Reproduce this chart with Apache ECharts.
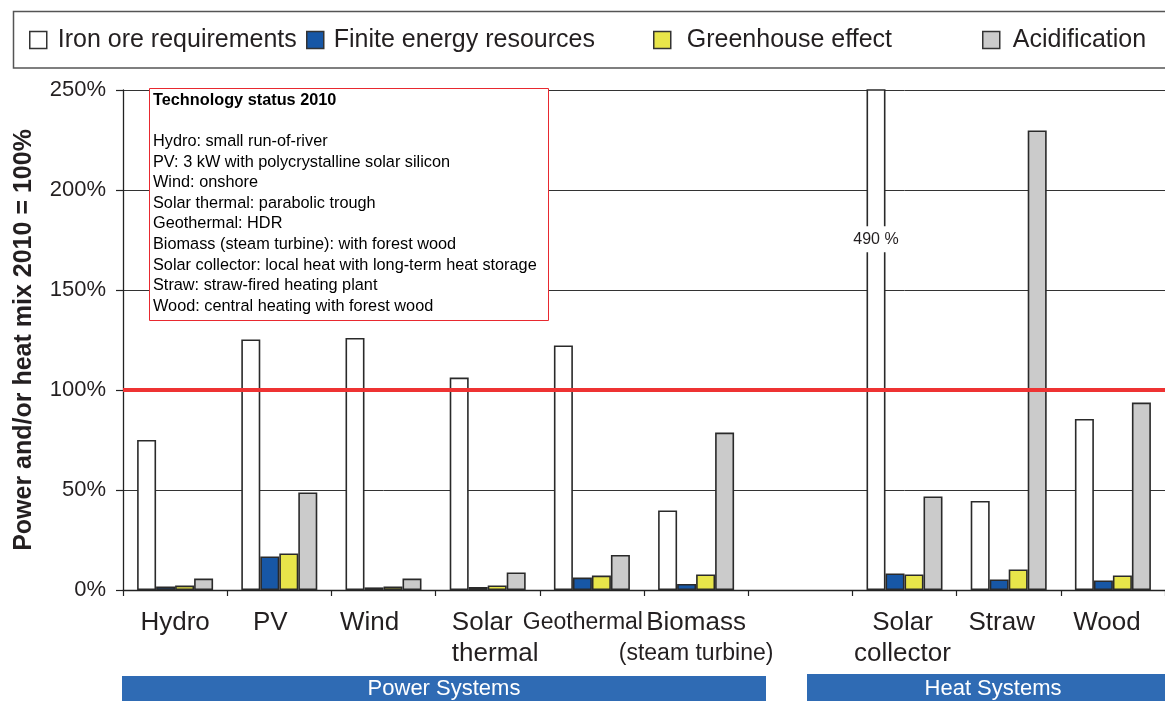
<!DOCTYPE html>
<html>
<head>
<meta charset="utf-8">
<script src="https://cdn.jsdelivr.net/npm/echarts@6/dist/echarts.min.js"></script>
<style>
html,body{margin:0;padding:0;background:#fff;}
#chart{width:1165px;height:701px;}
</style>
</head>
<body>
<div id="chart"></div>
<script>
// ---- data ----
const categories = ['Hydro', 'PV', 'Wind', 'Solar thermal', 'Geothermal', 'Biomass (steam turbine)', '', 'Solar collector', 'Straw', 'Wood'];
const tickLabels = ['Hydro', 'PV', 'Wind', 'Solar\nthermal', 'Geothermal', 'Biomass\n(steam turbine)', '', 'Solar\ncollector', 'Straw', 'Wood'];
const seriesNames = ['Iron ore requirements', 'Finite energy resources', 'Greenhouse effect', 'Acidification'];
const ironOre   = [75, 125.3, 126, 106.2, 122.3, 39.8, null, 490, 44.5, 85.5];
const finite    = [1.7, 16.8, 1.3, 1.5, 6.2, 3.0, null, 8.3, 5.3, 4.8];
const greenhouse= [2.2, 18.3, 1.7, 2.3, 7.2, 7.8, null, 7.8, 10.3, 7.3];
const acid      = [5.7, 48.8, 5.7, 8.8, 17.5, 78.7, null, 46.8, 229.8, 93.7];
const yTicks = [0, 50, 100, 150, 200, 250];
const referenceLevel = 100;
const noteTitle = 'Technology status 2010';
const noteLines = [
  'Hydro: small run-of-river',
  'PV: 3 kW with polycrystalline solar silicon',
  'Wind: onshore',
  'Solar thermal: parabolic trough',
  'Geothermal: HDR',
  'Biomass (steam turbine): with forest wood',
  'Solar collector: local heat with long-term heat storage',
  'Straw: straw-fired heating plant',
  'Wood: central heating with forest wood'
];
const groupNames = ['Power Systems', 'Heat Systems'];

// ---- styling ----
const FONT = '"Liberation Sans", Arial, Helvetica, sans-serif';
const TXT = '#231f20';
const colors = ['#ffffff', '#1757a6', '#e8e54a', '#cbcbcb'];
const yMin = yTicks[0], yMax = yTicks[yTicks.length - 1], yStep = yTicks[1] - yTicks[0];
const smallLabelLines = ['Geothermal', '(steam turbine)'];
const labelShift = {PV: -9, Wind: -14, 'Solar thermal': 7.5, Geothermal: -9, 'Solar collector': -2, Straw: -7, Wood: -6};
const leftAlignedLabels = ['Solar thermal'];

const rich = {};
categories.forEach((c, i) => {
  const s = labelShift[c] || 0;
  const pad = s < 0 ? [0, -2 * s, 0, 0] : [0, 0, 0, 2 * s];
  const al = leftAlignedLabels.includes(c) ? 'left' : 'center';
  rich['b' + i] = {fontSize: 26, lineHeight: 31, fontFamily: FONT, color: TXT, padding: pad, align: al};
  rich['s' + i] = {fontSize: 23, lineHeight: 31, fontFamily: FONT, color: TXT, padding: pad, align: al};
});

const allValues = [ironOre, finite, greenhouse, acid];
const series = allValues.map((vals, si) => ({
  name: seriesNames[si],
  type: 'bar',
  barWidth: 19,
  barGap: '0%',
  clip: true,
  itemStyle: {color: colors[si], borderColor: '#2a2a2a', borderWidth: 1.6},
  emphasis: {disabled: true},
  data: vals.map(v => (v != null && v > yMax) ? {
    value: v,
    label: {show: true, position: ['50%', 150], align: 'center', verticalAlign: 'middle',
      formatter: '{c} %', backgroundColor: '#fff', padding: [5, 1], fontSize: 16, fontFamily: FONT, color: TXT}
  } : v)
}));
series[0].markLine = {
  silent: true, symbol: 'none', animation: false,
  label: {show: false},
  lineStyle: {color: '#ee3333', width: 4, type: 'solid'},
  data: [{yAxis: referenceLevel}]
};

const legendLefts = [29, 306, 653, 982];
const legendTextGap = [6, 5, 11, 8];
const legends = seriesNames.map((n, i) => ({
  data: [n], left: legendLefts[i], top: 26, padding: 0, icon: 'rect', itemWidth: 17, itemHeight: 17,
  itemStyle: {borderColor: '#333', borderWidth: 1.5},
  textStyle: {fontSize: 25, fontFamily: FONT, color: TXT, padding: [0, 0, 0, legendTextGap[i]], lineHeight: 28},
  selectedMode: false
}));

const chart = echarts.init(document.getElementById('chart'), null, {renderer: 'canvas'});
chart.setOption({
  animation: false,
  backgroundColor: '#fff',
  textStyle: {fontFamily: FONT},
  legend: legends,
  grid: {left: 123, top: 90, width: 1048, height: 500, containLabel: false},
  xAxis: {
    type: 'category', data: categories, boundaryGap: true,
    axisLine: {lineStyle: {color: '#222', width: 1.3}},
    axisTick: {show: true, length: 6, lineStyle: {color: '#222', width: 1.2}},
    axisLabel: {
      interval: 0, margin: 17, rich: rich,
      formatter: (value, index) => {
        const t = tickLabels[index];
        if (!t) return '';
        return t.split('\n').map(line => '{' + (smallLabelLines.includes(line) ? 's' : 'b') + index + '|' + line + '}').join('\n');
      }
    }
  },
  yAxis: {
    type: 'value', min: yMin, max: yMax, interval: yStep,
    name: 'Power and/or heat mix 2010 = 100%', nameLocation: 'middle', nameGap: 86,
    nameTextStyle: {fontSize: 25, fontWeight: 'bold', fontFamily: FONT, color: TXT},
    axisLine: {show: true, lineStyle: {color: '#222', width: 1.3}},
    axisTick: {show: true, length: 7, lineStyle: {color: '#222', width: 1.2}},
    axisLabel: {formatter: '{value}%', fontSize: 22, fontFamily: FONT, color: TXT, margin: 17},
    splitLine: {show: true, lineStyle: {color: '#333', width: 1}}
  },
  series: series,
  graphic: [
    {type: 'rect', z: 0, silent: true, shape: {x: 13.5, y: 11.5, width: 1170, height: 56.5},
      style: {fill: 'none', stroke: '#555', lineWidth: 1.5}},
    {type: 'rect', z: 10, silent: true, shape: {x: 149.5, y: 88.5, width: 399, height: 232},
      style: {fill: '#fff', stroke: '#e8292f', lineWidth: 1}},
    {type: 'text', z: 11, silent: true, x: 153, y: 90,
      style: {
        text: '{t|' + noteTitle + '}\n{n| }\n' + noteLines.map(l => '{n|' + l + '}').join('\n'),
        rich: {
          t: {fontSize: 16.3, fontWeight: 'bold', fontFamily: FONT, color: TXT, lineHeight: 20.6},
          n: {fontSize: 16.3, fontFamily: FONT, color: TXT, lineHeight: 20.6}
        },
        verticalAlign: 'top', align: 'left'
      }},
    {type: 'rect', silent: true, shape: {x: 122, y: 676, width: 644, height: 25}, style: {fill: '#2f6bb4'}},
    {type: 'text', silent: true, x: 444, y: 689,
      style: {text: groupNames[0], fill: '#fff', font: '22px ' + FONT, align: 'center', verticalAlign: 'middle'}},
    {type: 'rect', silent: true, shape: {x: 807, y: 674, width: 372, height: 27}, style: {fill: '#2f6bb4'}},
    {type: 'text', silent: true, x: 993, y: 689,
      style: {text: groupNames[1], fill: '#fff', font: '22px ' + FONT, align: 'center', verticalAlign: 'middle'}}
  ]
});
</script>
</body>
</html>
